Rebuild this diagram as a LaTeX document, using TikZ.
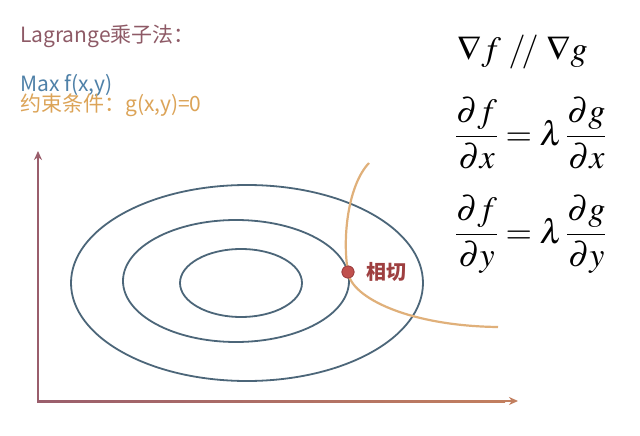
\documentclass[tikz,border=0pt]{standalone}
\usepackage{mathptmx}
\usepackage[no-math]{fontspec}
\newfontfamily\cjk{Noto Sans CJK SC}
\usepackage{tikz}
\usetikzlibrary{arrows.meta,positioning}
\definecolor{titlemauve}{HTML}{8E5A66}
\definecolor{maxblue}{HTML}{4F81A8}
\definecolor{condorange}{HTML}{DCA458}
\definecolor{levelslate}{HTML}{4C6679}
\definecolor{curvetan}{HTML}{E0B07A}
\definecolor{axismauve}{HTML}{9A5E6C}
\definecolor{axisorange}{HTML}{C27F5F}
\definecolor{touchred}{HTML}{C0504D}
\definecolor{touchdark}{HTML}{9E3F40}
\tikzset{
  level/.style={draw=levelslate, line width=1.8pt},
  constraint/.style={draw=curvetan, line width=2.2pt},
  heading/.style={anchor=base west, inner sep=0pt, font=\cjk\fontsize{21}{24}\selectfont},
  formula/.style={anchor=west, inner sep=0pt, font=\fontsize{34}{40}\selectfont},
  touchdot/.style={circle, fill=touchred, draw=touchdark, line width=0.8pt, minimum size=12pt, inner sep=0pt}
}

\begin{document}
\begin{tikzpicture}[>=Latex, x=1pt, y=-1pt]
  \useasboundingbox[fill=white] (0,0) rectangle (640,436);
  \node[heading, text=titlemauve] (title) at (20,43) {Lagrange乘子法：};
  \node[heading, text=maxblue] (objective) at (20,92) {Max f(x,y)};
  \node[heading, text=condorange] (condition) at (20,111) {约束条件：g(x,y)=0};
  \node[formula] (parallel) at (457,52) {$\nabla f\;/\!/\;\nabla g$};
  \node[formula] (eqx) at (455,133) {$\displaystyle\frac{\partial f}{\partial x}=\lambda\,\frac{\partial g}{\partial x}$};
  \node[formula] (eqy) at (455,234) {$\displaystyle\frac{\partial f}{\partial y}=\lambda\,\frac{\partial g}{\partial y}$};
  \coordinate (origin) at (38,401);
  \coordinate (yend) at (38,151);
  \coordinate (xend) at (518,401);
  \draw[axismauve, line width=2pt, -{Stealth[length=9pt,width=8pt]}] (origin) -- (yend);
  \shade[left color=axismauve, right color=axisorange] (37,400) rectangle (505,402.2);
  \draw[axisorange, line width=2.2pt, -{Stealth[length=9pt,width=8pt]}] (500,401) -- (xend);
  \draw[level] (247,283) ellipse [x radius=176, y radius=98];
  \draw[level] (236,281) ellipse [x radius=113, y radius=61];
  \draw[level] (241,283) ellipse [x radius=61, y radius=34];
  \coordinate (gtop) at (369,163);
  \coordinate (gend) at (498,327);
  \node[touchdot] (touch) at (348,272) {};
  \draw[constraint] (gtop) .. controls (348,185) and (342,238) .. (touch.center)
    .. controls (351,298) and (410,326) .. (gend);
  \node[touchdot] at (touch) {};
  \node[right=12pt of touch, inner sep=0pt, text=touchdark, font=\cjk\bfseries\fontsize{20}{22}\selectfont] (touchlabel) {相切};
\end{tikzpicture}
\end{document}
